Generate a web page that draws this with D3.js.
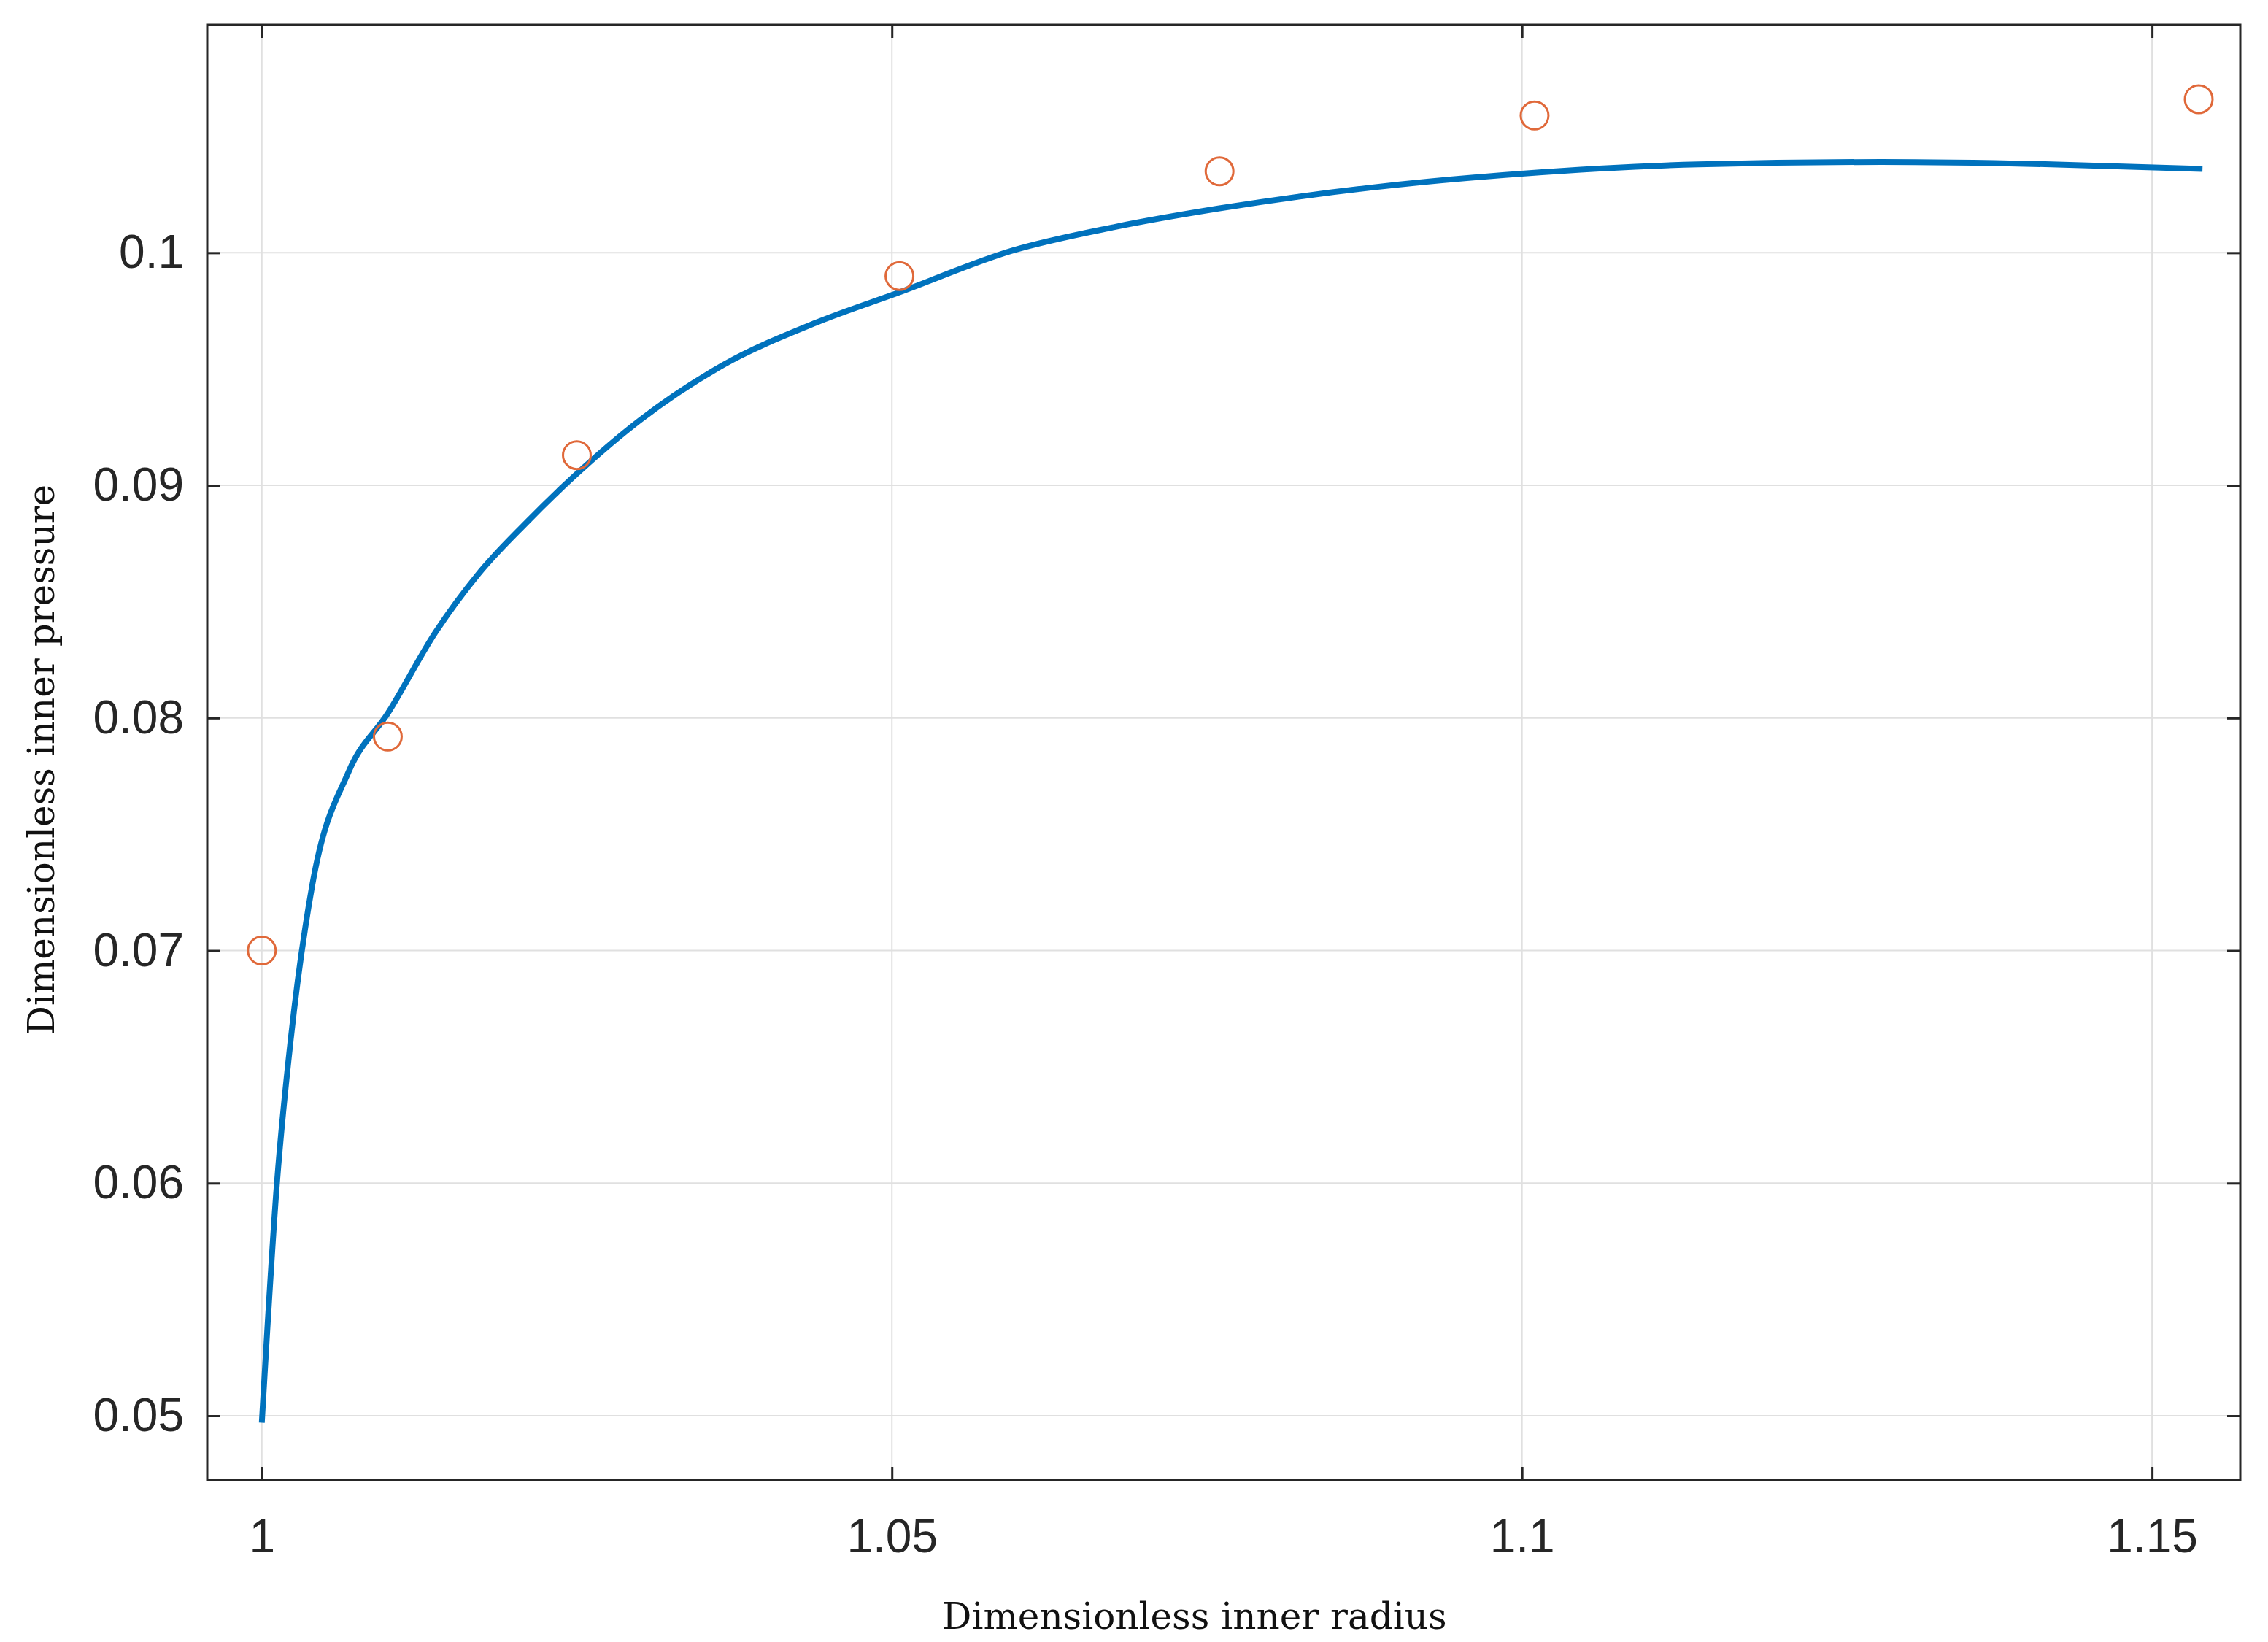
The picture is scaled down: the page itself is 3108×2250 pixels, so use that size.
<!DOCTYPE html>
<html>
<head>
<meta charset="utf-8">
<script src="https://cdn.jsdelivr.net/npm/d3@7"></script>
<style>
  body { margin: 0; background: #fff; }
  .tick text { font-family: "Liberation Sans", Arial, sans-serif; font-size: 64px; fill: #262626; }
  .title { font-family: "DejaVu Serif", "Liberation Serif", serif; font-size: 50px; fill: #111; }
</style>
</head>
<body>
<svg id="chart"></svg>
<script>
// data
const curveX = [1.0, 1.0012, 1.0023, 1.004, 1.0069, 1.01, 1.0138, 1.0172, 1.021, 1.025, 1.030, 1.0367, 1.044, 1.0506, 1.0596, 1.0676, 1.0759, 1.088, 1.1, 1.114, 1.1285, 1.142, 1.154];
const curveY = [0.0497, 0.0600, 0.0662, 0.0728, 0.0777, 0.0802, 0.0837, 0.0862, 0.0884, 0.0905, 0.0928, 0.0952, 0.0970, 0.0983, 0.1001, 0.1011, 0.1019, 0.1028, 0.1034, 0.1038, 0.1039, 0.1038, 0.1036];
const pointX = [1.0, 1.01, 1.025, 1.0506, 1.076, 1.101, 1.1537];
const pointY = [0.0700, 0.0792, 0.0913, 0.0990, 0.1035, 0.1059, 0.1066];
const xTicks = [1, 1.05, 1.1, 1.15];
const yTicks = [0.05, 0.06, 0.07, 0.08, 0.09, 0.1];

const width = 3108, height = 2250;
const margin = { left: 284, right: 38, top: 34, bottom: 222 };
const svg = d3.select("#chart").attr("width", width).attr("height", height);

const x = d3.scaleLinear().domain([0.99567, 1.157]).range([margin.left, width - margin.right]);
const y = d3.scaleLinear().domain([0.04724, 0.1098]).range([height - margin.bottom, margin.top]);
const x0 = margin.left, x1 = width - margin.right, y0 = height - margin.bottom, y1 = margin.top;

// grid
const grid = svg.append("g").attr("stroke", "#e0e0e0").attr("stroke-width", 2);
grid.selectAll(".gx").data(xTicks).join("line")
  .attr("x1", d => x(d)).attr("x2", d => x(d)).attr("y1", y0).attr("y2", y1);
grid.selectAll(".gy").data(yTicks).join("line")
  .attr("y1", d => y(d)).attr("y2", d => y(d)).attr("x1", x0).attr("x2", x1);

// axes with inward ticks
const fmt = d => String(+d.toFixed(2));
const tk = 18;
svg.append("g").attr("transform", `translate(0,${y0})`)
  .call(d3.axisBottom(x).tickValues(xTicks).tickFormat(fmt).tickSize(-tk).tickPadding(tk + 36))
  .call(g => g.select(".domain").remove());
svg.append("g").attr("transform", `translate(0,${y1})`)
  .call(d3.axisTop(x).tickValues(xTicks).tickFormat("").tickSize(-tk))
  .call(g => g.select(".domain").remove());
svg.append("g").attr("transform", `translate(${x0},0)`)
  .call(d3.axisLeft(y).tickValues(yTicks).tickFormat(fmt).tickSize(-tk).tickPadding(tk + 14))
  .call(g => g.select(".domain").remove());
svg.append("g").attr("transform", `translate(${x1},0)`)
  .call(d3.axisRight(y).tickValues(yTicks).tickFormat("").tickSize(-tk))
  .call(g => g.select(".domain").remove());
svg.selectAll(".tick line").attr("stroke", "#262626").attr("stroke-width", 3);

svg.append("rect").attr("x", x0).attr("y", y1).attr("width", x1 - x0).attr("height", y0 - y1)
  .attr("fill", "none").attr("stroke", "#262626").attr("stroke-width", 3);

// curve
const line = d3.line().x(d => x(d[0])).y(d => y(d[1])).curve(d3.curveMonotoneX);
svg.append("path").datum(curveX.map((v, i) => [v, curveY[i]]))
  .attr("d", line).attr("fill", "none").attr("stroke", "#0072BD").attr("stroke-width", 8);

// points
svg.selectAll(".pt").data(pointX.map((v, i) => [v, pointY[i]])).join("circle")
  .attr("cx", d => x(d[0])).attr("cy", d => y(d[1])).attr("r", 19)
  .attr("fill", "none").attr("stroke", "#E0693A").attr("stroke-width", 3);

// titles
svg.append("text").attr("class", "title").attr("text-anchor", "middle")
  .attr("x", (x0 + x1) / 2 - 40).attr("y", 2232).text("Dimensionless inner radius");
svg.append("text").attr("class", "title").attr("text-anchor", "middle")
  .attr("transform", `translate(74,${(y0 + y1) / 2 + 10}) rotate(-90)`).text("Dimensionless inner pressure");
</script>
</body>
</html>
